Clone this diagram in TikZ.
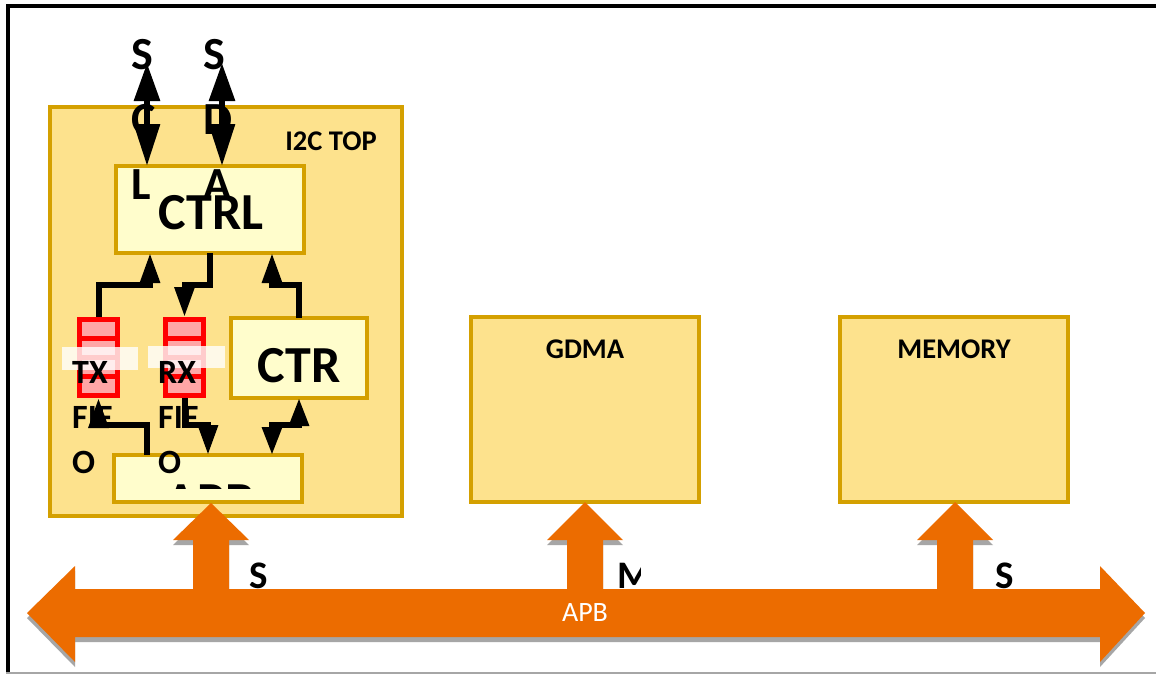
\documentclass[tikz,border=0pt]{standalone}
\usepackage{fontspec}
\setmainfont{Carlito}
\usetikzlibrary{arrows.meta}
\definecolor{boxfill}{RGB}{253,226,141}
\definecolor{boxline}{RGB}{212,160,0}
\definecolor{innerfill}{RGB}{255,253,204}
\definecolor{fifored}{RGB}{255,0,0}
\definecolor{fifopink}{RGB}{255,166,166}
\definecolor{busorange}{RGB}{236,108,0}
\definecolor{shadowgray}{RGB}{166,166,166}
\begin{document}
\begin{tikzpicture}[x=1pt,y=-1pt,
  blk/.style={draw=boxline,line width=4pt,fill=boxfill,inner sep=0pt,outer sep=0pt},
  innerblk/.style={blk,fill=innerfill},
  fifo/.style={fill=fifored,inner sep=0pt,outer sep=0pt,minimum width=43pt,minimum height=81pt},
  cell/.style={fill=fifopink},
  band/.style={fill=white,fill opacity=0.8},
  title/.style={font=\bfseries\fontsize{28.5}{34}\selectfont,inner sep=0pt},
  big/.style={font=\bfseries\fontsize{52}{60}\selectfont,inner sep=0pt},
  pin/.style={font=\bfseries\fontsize{46}{65}\selectfont,inner sep=0pt,align=left},
  fifotext/.style={font=\bfseries\fontsize{34}{45}\selectfont,inner sep=0pt,align=left},
  role/.style={font=\bfseries\fontsize{39}{45}\selectfont,inner sep=0pt},
  pinwire/.style={line width=6pt,arrows={Triangle[length=38pt,width=25pt]-Triangle[length=42pt,width=25pt]}},
  wire/.style={line width=6pt,arrows={-Triangle[length=30pt,width=19pt]}},
  wire2/.style={line width=6pt,arrows={Triangle[length=28pt,width=19pt]-Triangle[length=28pt,width=19pt]}},
  busfill/.style={fill=busorange},
  shadowfill/.style={fill=shadowgray}]
\useasboundingbox (0,0) rectangle (1156,675);
\fill[white] (0,0) rectangle (1156,675);
% outer frame
\draw[line width=4pt] (8,673) -- (8,6) -- (1156,6);
\draw[line width=2pt,shadowgray] (6,673) -- (1156,673);

% I2C top block
\node[blk,minimum width=352pt,minimum height=409pt] (i2c) at (226,311.5) {};
\node[title] (i2ctitle) at (331,141) {I2C TOP};
\node[innerblk,minimum width=188pt,minimum height=87pt] (ctrl) at (210,209.5) {};
\node[big] (ctrltext) at (211,213) {CTRL};
\node[innerblk,minimum width=136pt,minimum height=80pt] (ctr) at (299,358) {};
\node[big] (ctrtext) at (299,366) {CTR};
\node[innerblk,minimum width=188pt,minimum height=47pt] (apb) at (208,478.5) {};
\begin{scope}
  \clip (114,455) rectangle (302,488);
  \node[big,anchor=base] (apbtext) at (210,518) {APB};
\end{scope}

% FIFOs
\node[fifo] (tx) at (98.5,357.5) {};
\node[fifo] (rx) at (184.5,357.5) {};
\foreach \x in {82,168}{
  \foreach \y in {322,341,360,379}{
    \fill[cell] (\x,\y) rectangle ++(33,14);
  }
}
\fill[band] (62,347) rectangle (138,370);
\fill[band] (148,346) rectangle (225,368);
\node[fifotext,anchor=base west] (txtext) at (72,473) {TX\\FIF\\O};
\node[fifotext,anchor=base west] (rxtext) at (158,473) {RX\\FIF\\O};

% GDMA and MEMORY
\node[blk,minimum width=228pt,minimum height=185pt] (gdma) at (585,409.5) {};
\node[title] (gdmatext) at (585,349) {GDMA};
\node[blk,minimum width=228pt,minimum height=185pt] (mem) at (954,409.5) {};
\node[title] (memtext) at (954,349) {MEMORY};

% pins
\node[pin,anchor=base west] (scltext) at (131,199) {S\\C\\L};
\node[pin,anchor=base west] (sdatext) at (203,199) {S\\D\\A};
\coordinate (sclend) at (147,63);
\coordinate (sdaend) at (222,63);
\draw[pinwire] (sclend) -- (sclend |- ctrl.north);
\draw[pinwire] (sdaend) -- (sdaend |- ctrl.north);

% internal connectors
\draw[wire] (tx.north) -- ++(0,-32) -| ([xshift=-60pt]ctrl.south);
\draw[wire] (ctrl.south) -- ++(0,32) -| (rx.north);
\draw[wire] (ctr.north) -- ++(0,-33) -| ([xshift=62pt]ctrl.south);
\draw[wire] ([xshift=-61pt]apb.north) -- ++(0,-30) -| (tx.south);
\draw[wire] (rx.south) -- ++(0,27) -| (apb.north);
\draw[wire2] ([xshift=64pt]apb.north) -- ++(0,-30) -| (ctr.south);

% role labels
\node[role,anchor=base] (s1) at (259,588) {S};
\begin{scope}
  \clip (600,540) rectangle (640,600);
  \node[role,anchor=base west] (m1) at (617,588) {M};
\end{scope}
\node[role,anchor=base] (s2) at (1005,588) {S};

% APB bus with shadows
\begin{scope}[yshift=-5pt]
  \fill[shadowfill] (27,613) -- (75,566) -- (75,589) -- (1100,589) -- (1100,566) -- (1145,613) -- (1100,662) -- (1100,637) -- (75,637) -- (75,662) -- cycle;
  \foreach \c in {211,585,955}{
    \fill[shadowfill] (\c-18,589) -- (\c-18,540) -- (\c-38,540) -- (\c,503) -- (\c+38,540) -- (\c+18,540) -- (\c+18,589) -- cycle;
  }
\end{scope}
\fill[busfill] (27,613) -- (75,566) -- (75,589) -- (1100,589) -- (1100,566) -- (1145,613) -- (1100,662) -- (1100,637) -- (75,637) -- (75,662) -- cycle;
\fill[busfill] (193,600) -- (193,540) -- (173,540) -- (211,503) -- (249,540) -- (229,540) -- (229,600) -- cycle;
\fill[busfill] (567,600) -- (567,540) -- (547,540) -- (585,502) -- (623,540) -- (603,540) -- (603,600) -- cycle;
\fill[busfill] (937,600) -- (937,540) -- (917,540) -- (955,502) -- (993,540) -- (973,540) -- (973,600) -- cycle;
\node[font=\fontsize{28}{34}\selectfont,text=white,inner sep=0pt] (buslabel) at (585,613) {APB};
\end{tikzpicture}
\end{document}
